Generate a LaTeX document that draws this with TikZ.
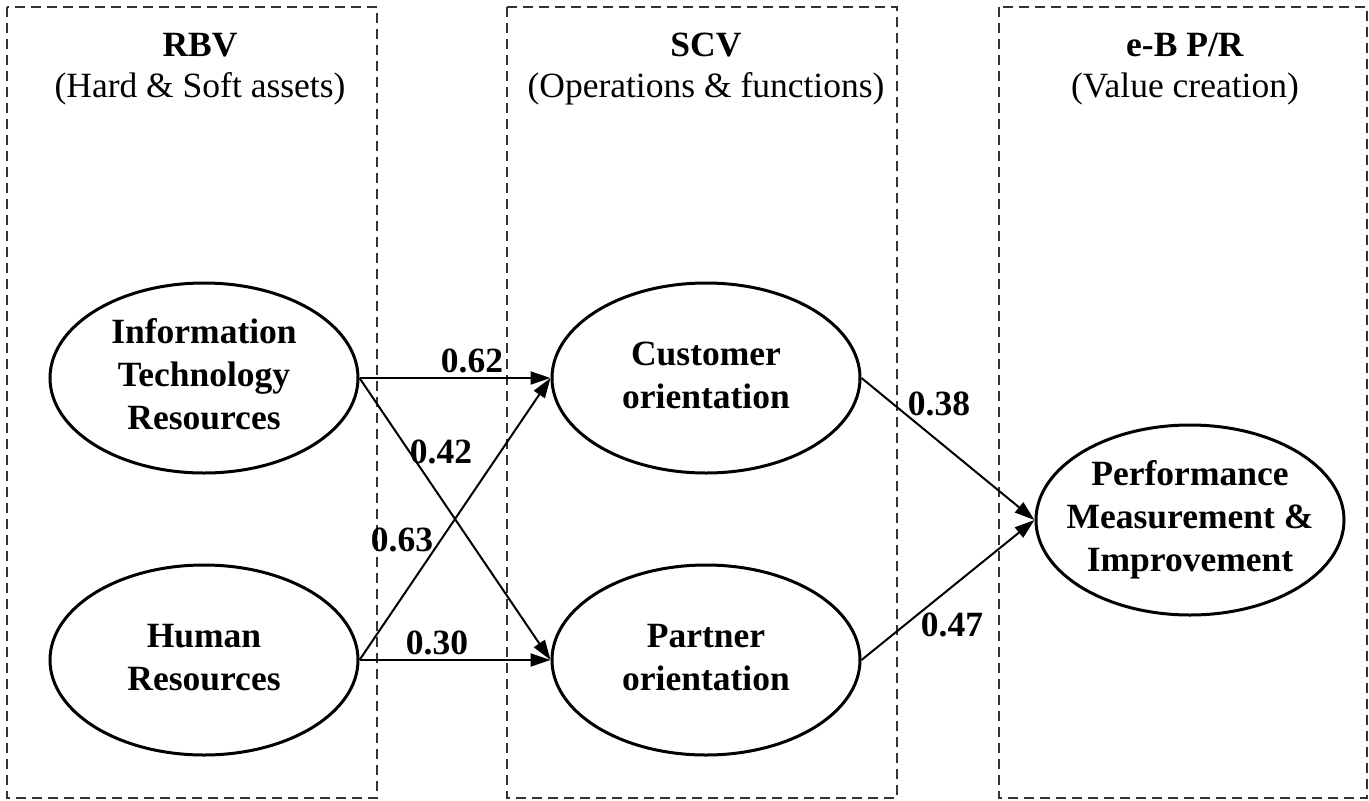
\documentclass[tikz,border=0pt]{standalone}
\usepackage{fontspec}
\setmainfont{Liberation Serif}
\usetikzlibrary{shapes.geometric, arrows.meta}

\newcommand{\lvtext}[1]{\makebox[0pt]{\begin{tabular}{@{}c@{}}#1\end{tabular}}}

\begin{document}
\begin{tikzpicture}[x=1pt, y=-1pt,
  every node/.style={font=\fontsize{35.5}{43}\selectfont},
  group/.style={draw=black!80, line width=1.2pt, dash pattern=on 10pt off 6pt},
  latent/.style={draw, ellipse, line width=3pt, minimum width=308pt, minimum height=190pt,
    inner sep=0pt, font=\fontsize{35.5}{43}\selectfont\bfseries},
  effect/.style={-{Triangle[length=20pt, width=13pt]}, line width=2pt},
  coef/.style={font=\fontsize{35.5}{43}\selectfont\bfseries, inner sep=0pt}]
\useasboundingbox (0,0) rectangle (1369,801);
% the three views
\draw[group] (7,7) rectangle (377,798);
\draw[group] (507,7) rectangle (897,798);
\draw[group] (999,7) rectangle (1367,798);
\node (rbv) at (200,45) {\textbf{RBV}};
\node (rbvsub) at (200,89) {(Hard \& Soft assets)};
\node (scv) at (706,45) {\textbf{SCV}};
\node (scvsub) at (706,89) {(Operations \& functions)};
\node (ebpr) at (1185,45) {\textbf{e-B P/R}};
\node (ebprsub) at (1185,89) {(Value creation)};
% constructs
\node[latent] (itres) at (204,378) {\lvtext{Information\\Technology\\Resources}};
\node[latent] (hres) at (204,660) {\lvtext{Human\\Resources}};
\node[latent] (custor) at (706,378) {\lvtext{Customer\\orientation}};
\node[latent] (partor) at (706,660) {\lvtext{Partner\\orientation}};
\node[latent] (perf) at (1190,520) {\lvtext{Performance\\Measurement \&\\Improvement}};
% paths
\draw[effect] (itres.east) -- (custor.west);
\draw[effect] (itres.east) -- (partor.west);
\draw[effect] (hres.east) -- (custor.west);
\draw[effect] (hres.east) -- (partor.west);
\draw[effect] (custor.east) -- (perf.west);
\draw[effect] (partor.east) -- (perf.west);
\node[coef] (b62) at (472,361) {0.62};
\node[coef] (b42) at (441,452) {0.42};
\node[coef] (b63) at (402,540) {0.63};
\node[coef] (b30) at (437,643) {0.30};
\node[coef] (b38) at (939,404) {0.38};
\node[coef] (b47) at (952,625) {0.47};
\end{tikzpicture}
\end{document}
